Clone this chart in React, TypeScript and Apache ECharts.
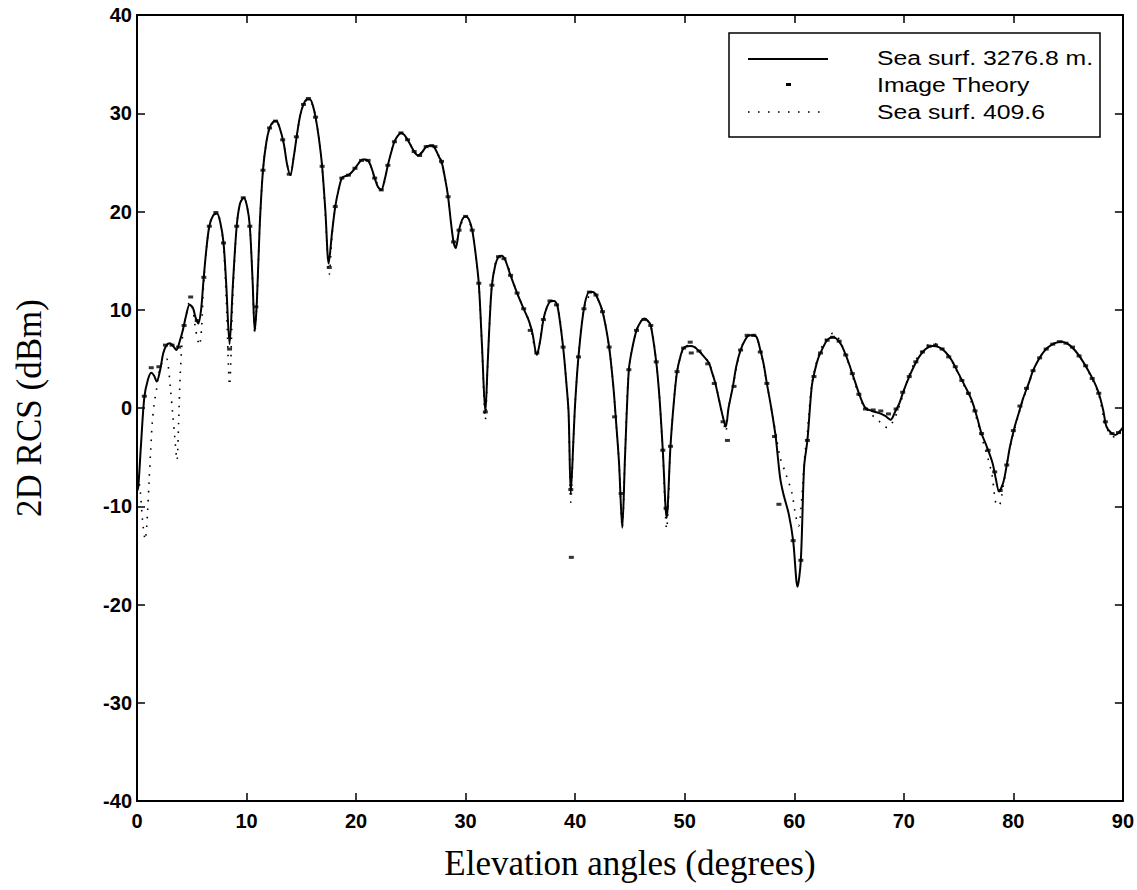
import React, { useEffect, useRef } from "react";
import * as echarts from "echarts";

// ---- data ----
const xTickValues = [0, 10, 20, 30, 40, 50, 60, 70, 80, 90];
const yTickValues = [-40, -30, -20, -10, 0, 10, 20, 30, 40];

const legendLabels = ["Sea surf. 3276.8 m.", "Image Theory", "Sea surf. 409.6"];

// solid line: Sea surf. 3276.8 m.  [angle (deg), RCS (dBm)]
const seaSurf3276: [number, number][] = [
  [0, -8.5], [0.12, -8.0], [0.35, -4.0], [0.67, 1.1], [1.0, 2.9], [1.3, 3.6], [1.55, 3.3], [1.8, 2.7],
  [2.1, 3.8], [2.4, 5.6], [2.7, 6.4], [3.0, 6.6], [3.3, 6.3], [3.6, 5.9], [3.9, 6.8], [4.2, 8.0],
  [4.5, 9.5], [4.8, 10.5], [5.1, 10.2], [5.35, 9.2], [5.6, 8.6], [5.85, 10.0], [6.05, 12.7], [6.3, 15.8],
  [6.6, 18.5], [6.95, 19.6], [7.3, 19.8], [7.6, 18.9], [7.9, 16.8], [8.15, 12.5], [8.45, 6.5], [8.75, 12.5],
  [9.1, 18.5], [9.4, 20.8], [9.75, 21.4], [10.05, 20.5], [10.3, 18.5], [10.55, 13.0], [10.75, 7.8], [10.95, 11.0],
  [11.2, 18.5], [11.5, 24.2], [11.8, 27.0], [12.1, 28.5], [12.4, 29.1], [12.7, 29.2], [13.0, 28.6], [13.4, 26.9],
  [13.7, 24.8], [14.0, 23.7], [14.3, 25.5], [14.6, 27.8], [14.9, 29.8], [15.2, 30.9], [15.5, 31.4], [15.8, 31.4],
  [16.05, 30.8], [16.3, 29.6], [16.6, 27.5], [16.9, 24.6], [17.2, 20.0], [17.5, 14.7], [17.8, 17.8], [18.1, 20.5],
  [18.4, 22.2], [18.7, 23.4], [19.0, 23.6], [19.3, 23.7], [19.6, 24.0], [19.9, 24.4], [20.3, 25.0], [20.6, 25.3],
  [20.9, 25.3], [21.2, 25.0], [21.45, 24.3], [21.7, 23.4], [22.0, 22.5], [22.3, 22.2], [22.6, 23.2], [22.9, 24.7],
  [23.2, 26.0], [23.5, 27.1], [23.8, 27.7], [24.1, 28.0], [24.4, 27.8], [24.7, 27.3], [25.0, 26.7], [25.3, 26.1],
  [25.65, 25.7], [26.0, 26.0], [26.4, 26.6], [26.7, 26.7], [27.0, 26.7], [27.3, 26.2], [27.6, 25.5], [27.8, 25.1],
  [28.1, 23.5], [28.4, 21.5], [28.65, 19.0], [28.9, 16.9], [29.1, 16.3], [29.4, 18.1], [29.7, 19.2], [30.0, 19.5],
  [30.3, 19.2], [30.6, 18.1], [30.9, 15.8], [31.2, 12.7], [31.5, 6.2], [31.8, -0.45], [32.0, 4.2], [32.2, 9.0],
  [32.4, 12.5], [32.7, 14.5], [33.0, 15.4], [33.3, 15.5], [33.6, 15.1], [34.1, 13.5], [34.7, 11.7], [35.3, 10.1],
  [35.8, 8.8], [36.1, 7.6], [36.5, 5.4], [36.8, 6.8], [37.1, 9.0], [37.4, 10.2], [37.8, 10.9], [38.1, 10.9],
  [38.4, 10.3], [38.9, 6.2], [39.2, 2.5], [39.4, -0.5], [39.6, -8.7], [39.85, -3.0], [40.0, 0.5], [40.3, 5.2],
  [40.8, 10.1], [41.3, 11.8], [41.6, 11.8], [41.9, 11.5], [42.5, 9.8], [43.1, 6.2], [43.5, 2.0], [43.7, -0.9],
  [44.0, -5.5], [44.3, -12.2], [44.55, -5.0], [44.9, 3.9], [45.2, 6.0], [45.6, 7.9], [46.0, 8.8], [46.3, 9.1],
  [46.6, 8.9], [46.9, 8.4], [47.4, 4.7], [47.7, 1.0], [48.0, -4.3], [48.35, -11.2], [48.7, -3.9], [49.0, 0.5],
  [49.3, 3.7], [49.6, 5.2], [49.9, 6.1], [50.5, 6.3], [50.9, 6.2], [51.3, 5.8], [51.7, 5.3], [52.2, 4.6],
  [52.5, 3.6], [52.8, 2.5], [53.1, 1.0], [53.4, -0.5], [53.75, -1.9], [54.0, 0.0], [54.4, 2.2], [54.7, 4.2],
  [55.1, 5.9], [55.5, 6.9], [55.9, 7.4], [56.5, 7.3], [56.9, 5.9], [57.2, 4.5], [57.5, 2.5], [57.9, 0.0],
  [58.3, -2.9], [58.7, -7.0], [59.0, -8.7], [59.5, -10.8], [59.9, -13.5], [60.3, -18.2], [60.6, -15.5], [60.9, -6.0],
  [61.2, -3.3], [61.6, 2.2], [61.9, 3.9], [62.2, 5.1], [62.6, 6.1], [62.9, 6.75], [63.2, 7.1], [63.5, 7.2],
  [63.8, 7.1], [64.1, 6.75], [64.4, 6.2], [64.7, 5.4], [65.0, 4.5], [65.3, 3.5], [65.6, 2.5], [66.0, 1.2],
  [66.5, 0.0], [67.1, -0.3], [67.7, -0.5], [68.3, -0.8], [68.8, -1.2], [69.2, -0.4], [69.6, 0.5], [70.0, 1.8],
  [70.5, 3.2], [71.0, 4.4], [71.4, 5.2], [72.0, 6.0], [72.6, 6.3], [73.2, 6.2], [73.8, 5.7], [74.4, 4.8],
  [75.0, 3.5], [75.6, 2.2], [76.2, 0.8], [76.7, -1.0], [77.1, -2.6], [77.6, -4.0], [78.1, -5.6], [78.4, -7.2],
  [78.7, -8.5], [79.1, -7.5], [79.4, -5.8], [79.7, -3.9], [80.1, -2.0], [80.5, -0.5], [80.9, 1.0], [81.4, 2.5],
  [81.8, 3.8], [82.3, 4.9], [82.7, 5.6], [83.2, 6.2], [83.8, 6.6], [84.4, 6.75], [85.0, 6.5], [85.6, 5.9],
  [86.2, 5.0], [86.9, 3.7], [87.4, 2.6], [87.8, 1.5], [88.2, -0.2], [88.5, -1.9], [88.9, -2.5], [89.3, -2.75],
  [89.7, -2.4], [90.0, -2.0],
];

// markers: Image Theory
const imageTheory: [number, number][] = [
  [0.67, 1.2], [1.3, 4.1], [2.0, 4.2], [2.6, 6.4], [3.2, 6.4], [3.8, 6.2], [4.3, 8.4], [4.9, 11.3],
  [5.5, 8.9], [6.1, 13.3], [6.6, 18.5], [7.2, 19.9], [7.9, 16.8], [8.45, 6.0], [9.1, 18.5], [9.7, 21.4],
  [10.3, 18.5], [10.85, 10.3], [11.5, 24.2], [12.1, 28.5], [12.65, 29.2], [13.3, 27.3], [13.9, 23.8], [14.55, 27.6],
  [15.2, 30.9], [15.65, 31.5], [16.3, 29.6], [16.9, 24.6], [17.55, 14.3], [18.1, 20.5], [18.7, 23.4], [19.3, 23.7],
  [19.9, 24.4], [20.5, 25.2], [21.1, 25.2], [21.7, 23.4], [22.3, 22.2], [22.9, 24.7], [23.5, 27.1], [24.1, 28.0],
  [24.7, 27.3], [25.3, 26.1], [25.8, 25.7], [26.4, 26.6], [26.9, 26.7], [27.2, 26.6], [27.8, 25.1], [28.4, 21.5],
  [28.9, 16.9], [29.4, 18.1], [30.0, 19.5], [30.6, 18.1], [31.2, 12.7], [31.8, -0.4], [32.4, 12.5], [33.0, 15.4],
  [33.5, 15.2], [34.1, 13.5], [34.7, 11.7], [35.3, 10.1], [35.9, 7.9], [36.5, 5.6], [37.1, 9.0], [37.7, 10.9],
  [38.3, 10.5], [38.9, 6.2], [39.6, -8.3], [39.65, -15.2], [40.3, 5.2], [40.8, 10.1], [41.3, 11.8], [41.9, 11.5],
  [42.5, 9.8], [43.1, 6.2], [43.6, -0.9], [44.2, -8.7], [44.9, 3.9], [45.6, 7.9], [46.3, 9.0], [46.9, 8.4],
  [47.4, 4.7], [48.0, -4.3], [48.3, -10.2], [48.7, -3.9], [49.3, 3.7], [49.9, 6.1], [50.5, 6.7], [50.6, 5.6],
  [51.3, 5.8], [52.1, 4.5], [52.7, 2.5], [53.5, -1.4], [53.9, -3.3], [54.5, 2.2], [55.1, 5.9], [55.7, 7.4],
  [56.3, 7.4], [56.9, 5.7], [57.5, 2.5], [58.2, -2.9], [58.6, -9.8], [59.9, -13.5], [60.6, -15.5], [61.2, -3.3],
  [61.8, 3.2], [62.4, 5.6], [63.0, 6.9], [63.5, 7.2], [64.1, 6.8], [64.7, 5.4], [65.3, 3.5], [65.9, 1.4],
  [66.5, -0.1], [67.2, -0.2], [67.9, -0.3], [68.6, -0.6], [69.3, -0.1], [69.9, 1.6], [70.5, 3.2], [71.1, 4.7],
  [71.7, 5.7], [72.3, 6.3], [72.9, 6.4], [73.5, 6.0], [74.1, 5.2], [74.7, 4.2], [75.3, 2.8], [75.9, 1.5],
  [76.5, -0.3], [77.1, -2.6], [77.7, -4.3], [78.3, -6.5], [78.8, -8.4], [79.4, -5.8], [80.0, -2.3], [80.6, 0.2],
  [81.2, 2.0], [81.8, 3.8], [82.4, 5.1], [83.0, 6.0], [83.6, 6.5], [84.2, 6.75], [84.8, 6.6], [85.4, 6.2],
  [86.0, 5.3], [86.6, 4.3], [87.2, 3.0], [87.8, 1.5], [88.4, -1.4], [89.0, -2.6], [89.6, -2.5],
];

// dotted line: Sea surf. 409.6
const seaSurf409: [number, number][] = [
  [0, -6], [0.3, -8.5], [0.5, -11.4], [0.75, -13.4], [0.97, -10.5], [1.1, -7.5], [1.24, -4.5], [1.4, -1.4],
  [1.6, 0.7], [1.76, 1.7], [2.0, 3.6], [2.4, 4.9], [2.7, 5.0], [2.85, 4.3], [3.05, 2.0], [3.25, -0.5],
  [3.45, -3.0], [3.65, -5.3], [3.8, -1.5], [3.95, 3.5], [4.2, 7.8], [4.5, 9.5], [4.8, 10.8], [5.1, 10.0],
  [5.35, 8.0], [5.7, 6.4], [5.9, 8.2], [6.05, 12.0], [6.3, 15.8], [6.6, 18.5], [6.95, 19.6], [7.3, 19.9],
  [7.6, 18.9], [7.9, 16.5], [8.15, 11.0], [8.45, 2.3], [8.75, 11.5], [9.1, 18.5], [9.4, 20.8], [9.75, 21.4],
  [10.05, 20.5], [10.3, 18.5], [10.55, 13.0], [10.75, 7.6], [10.95, 11.0], [11.2, 18.5], [11.5, 24.2], [11.8, 27.0],
  [12.1, 28.5], [12.7, 29.2], [13.0, 28.6], [13.4, 26.9], [13.7, 24.8], [14.0, 23.7], [14.3, 25.5], [14.6, 27.8],
  [14.9, 29.8], [15.2, 30.9], [15.6, 31.4], [16.05, 30.8], [16.3, 29.6], [16.6, 27.5], [16.9, 24.6], [17.2, 19.5],
  [17.55, 13.6], [17.8, 17.5], [18.1, 20.5], [18.7, 23.4], [19.3, 23.7], [19.9, 24.4], [20.6, 25.3], [21.2, 25.0],
  [21.7, 23.4], [22.3, 22.2], [22.9, 24.7], [23.5, 27.1], [24.1, 28.0], [24.7, 27.3], [25.3, 26.1], [25.65, 25.7],
  [26.4, 26.6], [27.0, 26.7], [27.6, 25.5], [28.1, 23.5], [28.4, 21.5], [28.9, 16.9], [29.1, 16.3], [29.4, 18.1],
  [30.0, 19.5], [30.6, 18.1], [30.9, 15.8], [31.2, 12.7], [31.5, 6.0], [31.8, -1.2], [32.0, 4.0], [32.2, 9.0],
  [32.4, 12.5], [33.0, 15.4], [33.6, 15.1], [34.7, 11.7], [35.8, 8.8], [36.5, 5.4], [37.1, 9.0], [37.8, 10.9],
  [38.4, 10.3], [38.9, 6.2], [39.2, 2.5], [39.4, -0.5], [39.6, -9.6], [39.85, -3.0], [40.0, 0.5], [40.3, 5.2],
  [40.8, 10.1], [41.6, 11.8], [42.5, 9.8], [43.1, 6.2], [43.5, 2.0], [43.7, -0.9], [44.0, -5.5], [44.3, -12.2],
  [44.55, -5.0], [44.9, 3.9], [45.6, 7.9], [46.3, 9.1], [46.9, 8.4], [47.4, 4.7], [47.7, 1.0], [48.0, -4.5],
  [48.35, -12.3], [48.7, -3.9], [49.0, 0.5], [49.3, 3.7], [49.9, 6.1], [50.5, 6.4], [51.3, 5.8], [52.2, 4.6],
  [52.8, 2.5], [53.4, -0.5], [53.75, -2.4], [54.0, 0.0], [54.4, 2.2], [55.1, 5.9], [55.9, 7.5], [56.5, 7.3],
  [56.9, 5.9], [57.5, 2.5], [57.9, 0.0], [58.3, -2.5], [58.7, -5.0], [59.2, -6.6], [59.8, -8.7], [60.1, -10.8],
  [60.4, -12.0], [60.7, -9.0], [60.95, -5.0], [61.2, -2.5], [61.6, 2.4], [62.2, 5.3], [62.9, 7.0], [63.5, 7.6],
  [64.1, 7.0], [64.7, 5.4], [65.6, 2.3], [66.2, 0.5], [67.0, -0.6], [67.7, -1.3], [68.5, -2.0], [69.0, -1.4],
  [69.6, 0.2], [70.5, 3.4], [71.4, 5.4], [72.6, 6.6], [73.8, 5.8], [75.0, 3.4], [76.2, 0.5], [77.1, -2.9],
  [78.0, -6.5], [78.5, -9.9], [78.7, -9.9], [79.1, -7.8], [79.7, -4.0], [80.5, -0.6], [81.4, 2.5], [82.3, 4.9],
  [83.2, 6.2], [84.4, 6.8], [85.6, 5.9], [86.9, 3.6], [87.8, 1.3], [88.5, -2.0], [89.3, -3.0], [90.0, -2.0],
];

const X_MIN = xTickValues[0];
const X_MAX = xTickValues[xTickValues.length - 1];
const Y_MIN = yTickValues[0];
const Y_MAX = yTickValues[yTickValues.length - 1];

const SANS = "'Liberation Sans', Arial, Helvetica, sans-serif";
const SERIF = "'Liberation Serif', 'Times New Roman', serif";

export default function App() {
  const ref = useRef<HTMLDivElement>(null);

  useEffect(() => {
    if (!ref.current) return;
    const chart = echarts.init(ref.current, undefined, { renderer: "svg" });

    const tickStyle = { inside: true, length: 8, lineStyle: { color: "#000", width: 1.5 } };
    const lineStyleAxis = { show: true, onZero: false, lineStyle: { color: "#000", width: 2 } };
    const labelStyle = { color: "#000", fontSize: 20, fontWeight: "bold" as const, fontFamily: SANS };

    const option: any = {
      animation: false,
      backgroundColor: "#fff",
      grid: { left: 137, right: 13, top: 15, bottom: 89, containLabel: false },
      xAxis: [
        {
          type: "value",
          min: X_MIN,
          max: X_MAX,
          interval: 10,
          position: "bottom",
          axisLine: lineStyleAxis,
          axisTick: tickStyle,
          splitLine: { show: false },
          axisLabel: { ...labelStyle, margin: 10 },
          name: "Elevation angles (degrees)",
          nameLocation: "middle",
          nameGap: 45,
          nameTextStyle: { color: "#000", fontSize: 35, fontFamily: SERIF },
        },
        {
          type: "value",
          min: X_MIN,
          max: X_MAX,
          interval: 10,
          position: "top",
          axisLine: lineStyleAxis,
          axisTick: tickStyle,
          splitLine: { show: false },
          axisLabel: { show: false },
        },
      ],
      yAxis: [
        {
          type: "value",
          min: Y_MIN,
          max: Y_MAX,
          interval: 10,
          position: "left",
          axisLine: lineStyleAxis,
          axisTick: tickStyle,
          splitLine: { show: false },
          axisLabel: { ...labelStyle, margin: 5 },
          name: "2D RCS (dBm)",
          nameLocation: "middle",
          nameGap: 90,
          nameTextStyle: { color: "#000", fontSize: 35, fontFamily: SERIF },
        },
        {
          type: "value",
          min: Y_MIN,
          max: Y_MAX,
          interval: 10,
          position: "right",
          axisLine: lineStyleAxis,
          axisTick: tickStyle,
          splitLine: { show: false },
          axisLabel: { show: false },
        },
      ],
      series: [
        {
          name: legendLabels[2],
          type: "line",
          data: seaSurf409,
          showSymbol: false,
          smooth: 0.3,
          lineStyle: { color: "#000", width: 1.6, type: [1.6, 7] },
          z: 2,
        },
        {
          name: legendLabels[0],
          type: "line",
          data: seaSurf3276,
          showSymbol: false,
          smooth: 0.3,
          lineStyle: { color: "#000", width: 2 },
          z: 3,
        },
        {
          name: legendLabels[1],
          type: "scatter",
          data: imageTheory,
          symbol: "rect",
          symbolSize: [5, 3],
          itemStyle: { color: "#000" },
          z: 4,
        },
      ],
      graphic: [
        {
          type: "rect",
          shape: { x: 729, y: 33, width: 371, height: 104 },
          style: { fill: "#fff", stroke: "#000", lineWidth: 1.5 },
          z: 10,
        },
        {
          type: "line",
          shape: { x1: 748, y1: 59, x2: 828, y2: 59 },
          style: { stroke: "#000", lineWidth: 2 },
          z: 11,
        },
        {
          type: "rect",
          shape: { x: 786, y: 83, width: 5, height: 3 },
          style: { fill: "#000" },
          z: 11,
        },
        {
          type: "line",
          shape: { x1: 748, y1: 112, x2: 824, y2: 112 },
          style: { stroke: "#000", lineWidth: 1.6, lineDash: [1.6, 8.4] },
          z: 11,
        },
        ...legendLabels.map((t, i) => ({
          type: "text",
          x: 877,
          y: [58, 85, 112][i],
          scaleX: 1.18,
          style: {
            text: t,
            fill: "#000",
            font: `21px ${SANS}`,
            textVerticalAlign: "middle",
            verticalAlign: "middle",
          },
          z: 11,
        })),
      ],
    };

    chart.setOption(option);
    return () => chart.dispose();
  }, []);

  return (
    <div
      ref={ref}
      style={{ position: "fixed", left: 0, top: 0, width: 1137, height: 890, background: "#fff" }}
    />
  );
}
